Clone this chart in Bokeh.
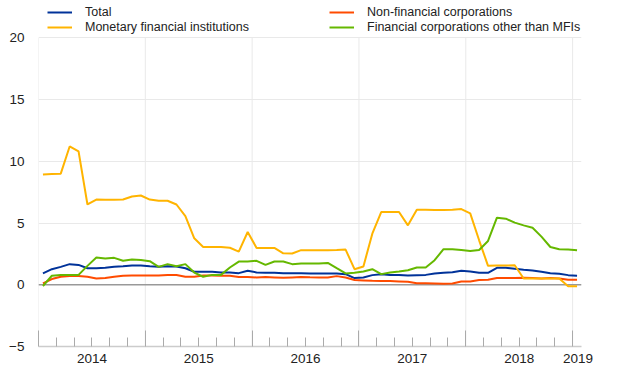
import pandas as pd
from bokeh.plotting import figure
from bokeh.models import (Range1d, LinearAxis, FixedTicker, Span, Legend, LegendItem,
                          ColumnDataSource, Grid, CustomJSTickFormatter)
from bokeh.embed import file_html
from bokeh.resources import INLINE

# ---- data (monthly, Jan 2014 - Jan 2019) ----
months = pd.date_range("2014-01-01", periods=61, freq="MS")

total = [0.92, 1.26, 1.45, 1.67, 1.61, 1.34, 1.34, 1.37, 1.45, 1.50, 1.56, 1.56,
         1.50, 1.45, 1.50, 1.48, 1.34, 1.05, 1.05, 1.05, 1.00, 1.00, 0.94, 1.13,
         1.00, 0.97, 0.97, 0.94, 0.94, 0.94, 0.92, 0.92, 0.92, 0.92, 0.86, 0.54,
         0.59, 0.78, 0.86, 0.80, 0.80, 0.75, 0.78, 0.80, 0.92, 0.98, 1.02, 1.13,
         1.08, 0.97, 0.97, 1.37, 1.37, 1.29, 1.21, 1.16, 1.05, 0.94, 0.89, 0.78,
         0.73]
nfc = [0.11, 0.46, 0.65, 0.70, 0.70, 0.65, 0.51, 0.54, 0.65, 0.73, 0.75, 0.75,
       0.75, 0.75, 0.80, 0.79, 0.65, 0.65, 0.75, 0.75, 0.73, 0.73, 0.62, 0.62,
       0.59, 0.62, 0.59, 0.56, 0.59, 0.62, 0.60, 0.59, 0.59, 0.70, 0.59, 0.38,
       0.35, 0.32, 0.30, 0.30, 0.27, 0.24, 0.13, 0.13, 0.11, 0.08, 0.11, 0.27,
       0.27, 0.38, 0.40, 0.54, 0.54, 0.54, 0.56, 0.54, 0.51, 0.54, 0.51, 0.40,
       0.40]
mfi = [8.93, 8.97, 9.00, 11.20, 10.80, 6.50, 6.90, 6.88, 6.88, 6.90, 7.15, 7.23,
       6.90, 6.80, 6.80, 6.50, 5.56, 3.76, 3.06, 3.06, 3.05, 3.00, 2.69, 4.27,
       2.98, 2.98, 2.98, 2.55, 2.53, 2.80, 2.80, 2.80, 2.80, 2.82, 2.85, 1.26,
       1.48, 4.14, 5.89, 5.89, 5.89, 4.81, 6.08, 6.07, 6.06, 6.06, 6.08, 6.13,
       5.78, 3.60, 1.53, 1.55, 1.55, 1.58, 0.51, 0.50, 0.50, 0.50, 0.50, -0.13,
       -0.13]
fin = [-0.10, 0.73, 0.80, 0.80, 0.80, 1.53, 2.20, 2.12, 2.18, 1.94, 2.04, 2.00,
       1.91, 1.45, 1.67, 1.50, 1.67, 0.99, 0.65, 0.80, 0.80, 1.40, 1.88, 1.88,
       1.94, 1.61, 1.88, 1.88, 1.67, 1.72, 1.72, 1.73, 1.77, 1.34, 0.92, 0.97,
       1.08, 1.26, 0.86, 1.00, 1.08, 1.18, 1.40, 1.40, 1.99, 2.88, 2.88, 2.82,
       2.74, 2.82, 3.55, 5.43, 5.35, 5.03, 4.81, 4.62, 3.90, 3.06, 2.88, 2.85,
       2.80]

series_names = ["Total", "Monetary financial institutions",
                "Non-financial corporations", "Financial corporations other than MFIs"]
series_colors = ["#003299", "#ffb400", "#ff4b00", "#65b800"]
year_labels = ["2014", "2015", "2016", "2017", "2018", "2019"]
y_ticks = [-5, 0, 5, 10, 15, 20]

# decimal-year position of each monthly observation (middle of month)
xpos = [d.year + (d.month - 0.5) / 12 for d in months]
years = [int(y) for y in year_labels]

FONT = "Liberation Sans"
TXT = "#222222"

# layout geometry (pixels)
W, H = 620, 387
BL, BR, BB = 38, 39, 41
AXIS_TOP_PX = 37.3          # where the value 20 sits
frame_h = H - BB
px_per_unit = (frame_h - AXIS_TOP_PX) / (y_ticks[-1] - y_ticks[0])
y_top = y_ticks[0] + frame_h / px_per_unit   # frame also holds the legend band

p = figure(width=W, height=H, output_backend="svg", toolbar_location=None,
           x_range=Range1d(years[0], years[-1] + 1 / 12),
           y_range=Range1d(y_ticks[0], y_top),
           x_axis_location=None, y_axis_location=None,
           min_border_left=BL, min_border_right=BR, min_border_top=0,
           min_border_bottom=BB)
p.outline_line_color = None
p.xgrid.visible = False
p.ygrid.visible = False

# y axis
yax = LinearAxis(ticker=FixedTicker(ticks=y_ticks))
yax.axis_line_color = None
yax.major_tick_line_color = None
yax.minor_tick_line_color = None
yax.major_label_text_font = FONT
yax.major_label_text_font_size = "13.5px"
yax.major_label_text_color = TXT
yax.major_label_standoff = 8
p.add_layout(yax, "left")

# x axis with ticks (year boundaries, minor every 2 months), no labels
minor = [y + k / 6 for y in years[:-1] for k in range(1, 6)]
xax = LinearAxis(ticker=FixedTicker(ticks=years, minor_ticks=minor),
                 formatter=CustomJSTickFormatter(code="return '';"))
xax.axis_line_color = "#cccccc"
xax.axis_line_width = 1.5
xax.major_tick_line_color = "#aaaaaa"
xax.major_tick_in = 16
xax.major_tick_out = 0
xax.minor_tick_line_color = "#aaaaaa"
xax.minor_tick_in = 9
xax.minor_tick_out = 0
xax.major_label_standoff = 0
p.add_layout(xax, "below")

# x axis with year labels centered on years
label_pos = [y + 0.5 for y in years[:-1]] + [years[-1] + 0.05]
lab_ax = LinearAxis(ticker=FixedTicker(ticks=label_pos),
                    formatter=CustomJSTickFormatter(code="return Math.floor(tick).toString();"))
lab_ax.axis_line_color = None
lab_ax.major_tick_line_color = None
lab_ax.minor_tick_line_color = None
lab_ax.major_label_text_font = FONT
lab_ax.major_label_text_font_size = "13.5px"
lab_ax.major_label_text_color = TXT
lab_ax.major_label_standoff = 1
p.add_layout(lab_ax, "below")

# horizontal grid
p.add_layout(Grid(dimension=1, ticker=FixedTicker(ticks=y_ticks),
                  grid_line_color="#e9e9e9", grid_line_width=1))
# vertical year lines, limited to the value range
p.segment(x0=years, x1=years, y0=[y_ticks[0]] * len(years), y1=[y_ticks[-1]] * len(years),
          line_color="#e9e9e9", line_width=1, level="underlay")

p.add_layout(Span(location=0, dimension="width", line_color="#999999",
                  line_width=1.5, level="underlay"))

src = ColumnDataSource(dict(x=xpos, total=total, mfi=mfi, nfc=nfc, fin=fin))
r_total = p.line("x", "total", source=src, line_color=series_colors[0], line_width=2)
r_nfc = p.line("x", "nfc", source=src, line_color=series_colors[2], line_width=2)
r_mfi = p.line("x", "mfi", source=src, line_color=series_colors[1], line_width=2)
r_fin = p.line("x", "fin", source=src, line_color=series_colors[3], line_width=2)

legend = Legend(items=[
    LegendItem(label=series_names[0], renderers=[r_total]),
    LegendItem(label=series_names[1], renderers=[r_mfi]),
    LegendItem(label=series_names[2], renderers=[r_nfc]),
    LegendItem(label=series_names[3], renderers=[r_fin]),
], ncols=2, location=(9, frame_h - 34))
legend.label_text_font = FONT
legend.label_text_font_size = "12.5px"
legend.label_text_color = TXT
legend.glyph_width = 25
legend.glyph_height = 14
legend.label_height = 14
legend.label_width = 243
legend.label_standoff = 13
legend.spacing = 1
legend.padding = 0
legend.margin = 0
legend.border_line_color = None
legend.background_fill_alpha = 0
p.add_layout(legend, "center")

open("out.html", "w").write(file_html(p, INLINE))
